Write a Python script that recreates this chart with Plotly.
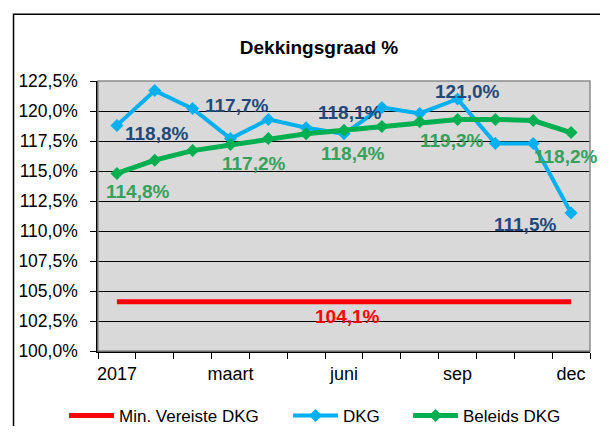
import plotly.graph_objects as go

# ---- data ----
months = ["2017", "jan", "feb", "maart", "apr", "mei", "juni", "juli", "aug", "sep", "okt", "nov", "dec"]
tick_text = ["2017", "", "", "maart", "", "", "juni", "", "", "sep", "", "", "dec"]
min_vereiste = [104.1] * 13
dkg = [118.8, 121.7, 120.2, 117.7, 119.3, 118.6, 118.1, 120.3, 119.8, 121.0, 117.3, 117.3, 111.5]
beleids = [114.8, 115.9, 116.7, 117.2, 117.7, 118.1, 118.4, 118.7, 119.1, 119.3, 119.3, 119.2, 118.2]
y_ticks = [100, 102.5, 105, 107.5, 110, 112.5, 115, 117.5, 120, 122.5]
y_ticktext = ["100,0%", "102,5%", "105,0%", "107,5%", "110,0%", "112,5%", "115,0%", "117,5%", "120,0%", "122,5%"]

# labelled points: (index, xshift, yshift)
dkg_labels = [(0, 40, -8), (3, 6, 33), (6, 5, 21), (9, 10, 8), (12, -46, -11)]
bel_labels = [(0, 21, -18), (3, 23, -19), (6, 8, -23), (9, -6, -21), (12, -6, -24)]
min_label_idx = 6

FONT = "Liberation Sans, Arial, sans-serif"
BLUE = "#00B0F0"
GREEN = "#00B050"
RED = "#FF0000"
BLUE_TXT = "#1F497D"
GREEN_TXT = "#36A15B"

# page body keeps an 8px margin all round: figure is 592x418 placed at (8, 8)
OFF = 8
W, H = 608 - 2 * OFF, 434 - 2 * OFF

fig = go.Figure()
fig.add_trace(go.Scatter(x=months, y=min_vereiste, mode="lines", name="Min. Vereiste DKG",
                         line=dict(color=RED, width=5), legend="legend"))
fig.add_trace(go.Scatter(x=months, y=dkg, mode="lines+markers", name="DKG",
                         line=dict(color=BLUE, width=4),
                         marker=dict(symbol="diamond", size=10, color=BLUE), legend="legend2"))
fig.add_trace(go.Scatter(x=months, y=beleids, mode="lines+markers", name="Beleids DKG",
                         line=dict(color=GREEN, width=5),
                         marker=dict(symbol="diamond", size=10, color=GREEN), legend="legend3"))

def pct(v):
    return f"{v:.1f}%".replace(".", ",")

LBL = 19
annotations = []
# on a category axis a numeric x is the category index
for i, dx, dy in dkg_labels:
    annotations.append(dict(x=i, y=dkg[i], text=pct(dkg[i]), showarrow=False,
                            xshift=dx, yshift=dy,
                            font=dict(family=FONT, size=LBL, color=BLUE_TXT, weight="bold")))
for i, dx, dy in bel_labels:
    annotations.append(dict(x=i, y=beleids[i], text=pct(beleids[i]), showarrow=False,
                            xshift=dx, yshift=dy,
                            font=dict(family=FONT, size=LBL, color=GREEN_TXT, weight="bold")))
annotations.append(dict(x=min_label_idx, y=min_vereiste[min_label_idx],
                        text=pct(min_vereiste[min_label_idx]), showarrow=False,
                        xshift=3, yshift=-15,
                        font=dict(family=FONT, size=LBL, color=RED, weight="bold")))

leg_y = 1 - (416 - OFF) / H
leg_common = dict(orientation="h", yref="container", yanchor="middle", y=leg_y,
                  xref="container", xanchor="left",
                  font=dict(family=FONT, size=17, color="black"),
                  bgcolor="rgba(0,0,0,0)", itemwidth=45)

fig.update_layout(
    width=W, height=H,
    margin=dict(l=95 - OFF, r=608 - OFF - 590, t=81 - OFF, b=H - (351 - OFF)),
    paper_bgcolor="white",
    plot_bgcolor="#D9D9D9",
    font=dict(family=FONT, size=17, color="black"),
    title=dict(text="<b>Dekkingsgraad %</b>", x=(319 - OFF) / W, xanchor="center",
               y=1 - (47 - OFF) / H, yanchor="middle", yref="container",
               font=dict(family=FONT, size=19, color="black")),
    showlegend=True,
    legend=dict(x=(64 - OFF) / W, **leg_common),
    legend2=dict(x=(288 - OFF) / W, **leg_common),
    legend3=dict(x=(408 - OFF) / W, **leg_common),
    annotations=annotations,
    shapes=[
        dict(type="rect", xref="paper", yref="paper", x0=0, x1=1, y0=0, y1=1,
             line=dict(color="#8C8C8C", width=1.5), layer="above"),
        dict(type="rect", xref="paper", yref="paper", x0=-0.1717, x1=1.1, y0=-0.45, y1=1.247,
             line=dict(color="black", width=1.5)),
    ],
)
fig.update_xaxes(type="category", tickvals=months, ticktext=tick_text, tickson="boundaries",
                 ticks="outside", ticklen=6, tickcolor="black", showline=True, linecolor="black",
                 linewidth=1.5, showgrid=False, range=[-0.5, 12.5], ticklabelstandoff=6,
                 tickangle=0, tickfont=dict(family=FONT, size=18, color="black"))
fig.update_yaxes(range=[100, 122.5], tickvals=y_ticks, ticktext=y_ticktext, ticks="outside",
                 ticklen=6, tickcolor="black", showline=True, linecolor="black", linewidth=1.5,
                 showgrid=True, gridcolor="black", gridwidth=1, zeroline=False,
                 ticklabelstandoff=9, tickfont=dict(family=FONT, size=17.5, color="black"))

fig.write_html("out.html")
